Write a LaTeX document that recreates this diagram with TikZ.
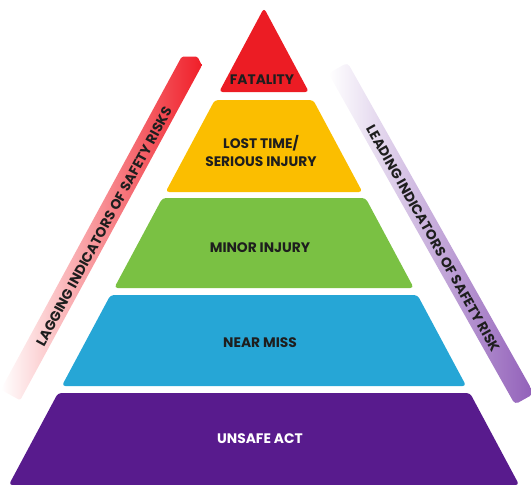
\documentclass[tikz,border=0pt]{standalone}
\usepackage{fontspec}
\setmainfont{Poppins}
\definecolor{cred}{RGB}{236,28,36}
\definecolor{cyel}{RGB}{251,190,0}
\definecolor{cgreen}{RGB}{122,193,67}
\definecolor{cblue}{RGB}{38,166,214}
\definecolor{cpurp}{RGB}{88,27,141}
\definecolor{ctext}{RGB}{30,30,30}
\definecolor{bandred}{RGB}{240,30,40}
\definecolor{bandpurp}{RGB}{145,95,185}
\begin{document}
\begin{tikzpicture}[x=1pt,y=1pt,
  layer/.style={rounded corners=3.5pt},
  lbl/.style={font=\bfseries\fontsize{13.8}{18}\selectfont, text=ctext, align=center, inner sep=0pt},
  bandlbl/.style={font=\bfseries\fontsize{13.8}{15}\selectfont, text=ctext, inner sep=0pt}]
\useasboundingbox (0,0) rectangle (531,-485);
% side bands
\begin{scope}[shift={(10.5,-395)}, rotate=61.5]
  \shade[left color=white, right color=bandred, rounded corners=1.5pt]
    (0,11) -- (379,11) -- (386.6,-3) -- (381,-11) -- (0,-11) -- cycle;
\end{scope}
\begin{scope}[shift={(338,-68)}, rotate=-60.6]
  \shade[left color=white, right color=bandpurp, rounded corners=4pt]
    (0,11) -- (380,11) -- (380,-11) -- (0,-11) -- cycle;
\end{scope}
% pyramid layers
\fill[cred,layer]   (264,-8) -- (308.9,-92) -- (219.1,-92) -- cycle;
\fill[cyel,layer]   (214.8,-100) -- (313.2,-100) -- (362.4,-192) -- (165.6,-192) -- cycle;
\fill[cgreen,layer] (162.4,-198) -- (365.6,-198) -- (413.8,-288) -- (114.2,-288) -- cycle;
\fill[cblue,layer]  (110.5,-295) -- (417.5,-295) -- (466.2,-386) -- (61.8,-386) -- cycle;
\fill[cpurp,layer]  (58,-393) -- (470,-393) -- (519.2,-485) -- (8.8,-485) -- cycle;
% labels
\node[lbl] (fat) at (262,-80) {FATALITY};
\node[lbl] (lost) at (261,-151) {LOST TIME/\\SERIOUS INJURY};
\node[lbl] (minor) at (260,-248) {MINOR INJURY};
\node[lbl] (near) at (260,-343) {NEAR MISS};
\node[lbl, text=white] (unsafe) at (260,-439) {UNSAFE ACT};
\node[bandlbl, rotate=61.5] (lag) at (104,-226.5) {LAGGING INDICATORS OF SAFETY RISKS};
\node[bandlbl, rotate=-60.6] (lead) at (433,-238.5) {LEADING INDICATORS OF SAFETY RISK};
\end{tikzpicture}
\end{document}
